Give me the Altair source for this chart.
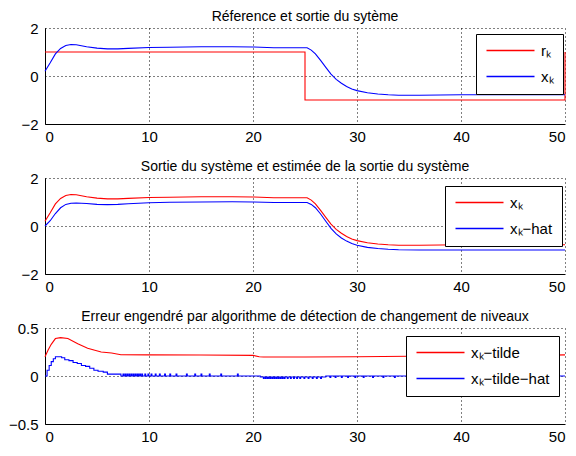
import altair as alt
import pandas as pd

FONT = "Liberation Sans"

# ---- Panel 1 & 2 : system output x_k and its estimate ----
t_main = [0, 0.5, 1.0, 1.5, 2.0, 2.5, 3.0, 3.5, 4.0, 5.0, 6.0, 7.0, 8.0, 10, 12, 15, 18, 20, 22, 24,
          25.2, 25.6, 26.0, 26.5, 27.0, 27.5, 28.0, 28.5, 29.0, 29.5, 30.0, 31.0, 32.0, 33.0, 34.0,
          36.0, 38.0, 40.0, 45.0, 50.0]
x_k = [0.2, 0.55, 0.92, 1.15, 1.27, 1.31, 1.3, 1.26, 1.22, 1.16, 1.13, 1.13, 1.15, 1.19, 1.2, 1.22, 1.22, 1.21, 1.18, 1.18,
       1.18, 1.08, 0.92, 0.65, 0.36, 0.08, -0.14, -0.3, -0.44, -0.54, -0.61, -0.7, -0.75, -0.78, -0.8,
       -0.8, -0.79, -0.78, -0.78, -0.78]
x_hat = [0.0, 0.22, 0.52, 0.76, 0.9, 0.95, 0.96, 0.95, 0.94, 0.9, 0.89, 0.9, 0.93, 0.97, 0.99, 1.0, 1.01, 1.0, 0.98, 0.98,
         0.98, 0.9, 0.76, 0.5, 0.2, -0.1, -0.33, -0.5, -0.63, -0.73, -0.8, -0.89, -0.94, -0.97, -0.99,
         -1.0, -1.0, -1.0, -1.0, -1.0]

# reference r_k
t_ref = [0, 25, 25, 50, 50]
r_k = [1, 1, -1, -1, 1]

# ---- Panel 3 : errors ----
t_tilde = [0, 0.3, 0.6, 1.0, 1.5, 2.2, 3.15, 4.1, 5.4, 6.4, 7.3, 10, 15, 20, 20.6, 21, 25, 30, 35, 40, 45, 50]
x_tilde = [0.2, 0.27, 0.33, 0.39, 0.40, 0.39, 0.335, 0.29, 0.25, 0.24, 0.222, 0.22, 0.218, 0.215, 0.2, 0.198,
           0.198, 0.2, 0.205, 0.21, 0.21, 0.22]

t_th = [0, 0.2, 0.4, 0.6, 0.8, 1.0, 1.6, 1.9, 2.3, 2.7, 3.1, 3.5, 3.9, 4.3, 4.7, 5.1, 5.6, 6.0, 6.6, 7.3, 20.7, 27.0, 50]
x_th = [0, 0.06, 0.11, 0.15, 0.18, 0.2, 0.19, 0.17, 0.16, 0.14, 0.13, 0.11, 0.1, 0.08, 0.06, 0.05, 0.04, 0.02, 0.02,
        0.0, -0.01, 0.0, 0.0]
spike_up_t = [7.5, 7.7, 7.9, 8.1, 8.3, 8.5, 8.7, 8.9, 9.1, 9.3, 9.6, 9.9, 10.2, 10.6, 11.0, 11.5, 12.0, 12.6,
              13.6, 14.4, 15.0, 15.8, 16.9, 18.5]
spike_up_h = 0.02
spike_down_t = [21.0, 21.2, 21.4, 21.6, 21.8, 22.0, 22.2, 22.4, 22.6, 22.8, 23.0, 23.3, 23.6, 23.9, 24.2, 24.5,
                24.9, 25.3, 25.7, 26.1, 26.5]
spike_down_h = -0.025
spike_late_t = [27.4, 27.9, 28.5, 29.1, 29.8, 30.6, 31.5, 32.5, 33.6]
spike_late_h = -0.015

L_r, L_x, L_xhat = "r\u2096", "x\u2096", "x\u2096\u2212hat"
L_xt, L_xth = "x\u2096\u2212tilde", "x\u2096\u2212tilde\u2212hat"
RED, BLUE = "#ff0000", "#0000ff"


def base_th(t):
    v = x_th[0]
    for tt, vv in zip(t_th, x_th):
        if tt <= t:
            v = vv
    return v


# build table for tilde-hat staircase with spikes
th_rows = [(t, v) for t, v in zip(t_th, x_th)]
for ts in spike_up_t:
    th_rows += [(ts, spike_up_h), (ts + 0.08, base_th(ts))]
for ts in spike_down_t:
    th_rows += [(ts, spike_down_h), (ts + 0.08, base_th(ts))]
for ts in spike_late_t:
    th_rows += [(ts, spike_late_h), (ts + 0.08, base_th(ts))]
th_rows.sort(key=lambda r: r[0])

df1 = pd.concat([
    pd.DataFrame({"t": t_ref, "v": r_k, "s": L_r, "i": range(len(t_ref))}),
    pd.DataFrame({"t": t_main, "v": x_k, "s": L_x, "i": range(len(t_main))}),
])
df2 = pd.concat([
    pd.DataFrame({"t": t_main, "v": x_k, "s": L_x, "i": range(len(t_main))}),
    pd.DataFrame({"t": t_main, "v": x_hat, "s": L_xhat, "i": range(len(t_main))}),
])
df3a = pd.DataFrame({"t": t_tilde, "v": x_tilde, "s": L_xt, "i": range(len(t_tilde))})
df3b = pd.DataFrame({"t": [r[0] for r in th_rows], "v": [r[1] for r in th_rows], "s": L_xth,
                     "i": range(len(th_rows))})

W, H = 520, 96

xax = alt.X("t:Q", scale=alt.Scale(domain=[0, 50], nice=False),
            axis=alt.Axis(values=[0, 10, 20, 30, 40, 50], title=None))


def yax(lo, hi, vals):
    return alt.Y("v:Q", scale=alt.Scale(domain=[lo, hi], nice=False),
                 axis=alt.Axis(values=vals, title=None, labelPadding=7,
                               labelExpr="datum.value == 0 ? '0' : format(datum.value, '')"))


def col(domain, lx, ly):
    return alt.Color("s:N", scale=alt.Scale(domain=domain, range=[RED, BLUE]),
                     legend=alt.Legend(title=None, orient="none", legendX=lx, legendY=ly,
                                       strokeColor="black", fillColor="white", padding=9,
                                       symbolType="M-1,0H7", symbolSize=144, symbolStrokeWidth=1.5,
                                       labelOffset=41,
                                       labelFontSize=15, labelFont=FONT, labelColor="black",
                                       rowPadding=10))


p1 = alt.Chart(df1).mark_line(strokeWidth=1.1).encode(
    x=xax, y=yax(-2, 2, [-2, 0, 2]), color=col([L_r, L_x], 431, 6), order="i:Q", detail="s:N"
).properties(width=W, height=H, title="Réference et sortie du sytème")

p2 = alt.Chart(df2).mark_line(strokeWidth=1.1).encode(
    x=xax, y=yax(-2, 2, [-2, 0, 2]), color=col([L_x, L_xhat], 400, 8), order="i:Q", detail="s:N"
).properties(width=W, height=H, title="Sortie du système et estimée de la sortie du système")

c3 = col([L_xt, L_xth], 361, 8)
p3a = alt.Chart(df3a).mark_line(strokeWidth=1.1).encode(
    x=xax, y=yax(-0.5, 0.5, [-0.5, 0, 0.5]), color=c3, order="i:Q")
p3b = alt.Chart(df3b).mark_line(strokeWidth=1.1, interpolate="step-after").encode(
    x=xax, y=yax(-0.5, 0.5, [-0.5, 0, 0.5]), color=c3, order="i:Q")
p3 = alt.layer(p3a, p3b).properties(width=W, height=H,
                                    title="Erreur engendré par algorithme de détection de changement de niveaux")

chart = alt.vconcat(p1, p2, p3, spacing=16).resolve_scale(color="independent").properties(
    padding={"left": 0, "right": 0, "top": 2, "bottom": 0}
).configure_view(stroke=None).configure_axis(
    labelFont=FONT, labelFontSize=15, labelColor="black", domainColor="black", domainWidth=1,
    ticks=False, labelPadding=5, grid=True, gridColor="#000000", gridDash=[1, 3], gridOpacity=1,
    gridWidth=1
).configure_title(
    font=FONT, fontSize=14, fontWeight="normal", color="black", offset=-3, anchor="middle"
).configure_legend(labelLimit=300)

chart.save("out.html", embed_options={"renderer": "svg", "actions": False})
